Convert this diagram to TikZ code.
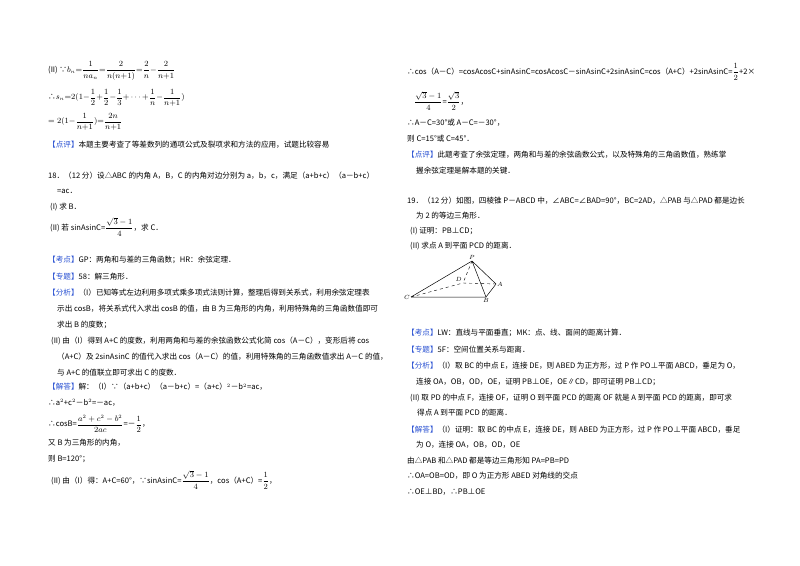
\documentclass[tikz,border=0pt]{standalone}
\usepackage{fontspec}
\usepackage{amsmath}
\setmainfont{Noto Sans CJK SC}
\definecolor{lb}{RGB}{40,80,210}
\newcommand{\ff}{\fontsize{7.6pt}{9pt}\selectfont}
\newcommand{\tg}[1]{\textcolor{lb}{【#1】}}
\newcommand{\fr}[2]{\dfrac{#1}{#2}}
\begin{document}
\begin{tikzpicture}[x=1pt,y=-1pt,
  t/.style={anchor=west,inner sep=0pt,font=\ff},
  sl/.style={draw=black,line width=0.5pt},
  dl/.style={draw=black,line width=0.4pt,dashed},
  vl/.style={inner sep=1pt,font=\fontsize{6.5pt}{7pt}\selectfont}]
\useasboundingbox[fill=white] (0,0) rectangle (800,565);
% left column
\node[t] (l1) at (48,71) {(II) ∵$b_n{=}\fr{1}{na_n}{=}\fr{2}{n(n{+}1)}{=}\fr{2}{n}{-}\fr{2}{n{+}1}$};
\node[t] (l2) at (48,98) {∴$s_n{=}2(1{-}\fr12{+}\fr12{-}\fr13{+}\cdots{+}\fr1n{-}\fr1{n{+}1})$};
\node[t] (l3) at (48,122) {$=2(1{-}\fr1{n{+}1}){=}\fr{2n}{n{+}1}$};
\node[t] (l4) at (48,145) {\tg{点评}本题主要考查了等差数列的通项公式及裂项求和方法的应用，试题比较容易};
\node[t] (l5) at (48,176) {18．（12 分）设△ABC 的内角 A，B，C 的内角对边分别为 a，b，c，满足（a+b+c）（a－b+c）};
\node[t] (l6) at (57,191) {=ac．};
\node[t] (l7) at (50,207) {(I) 求 B．};
\node[t] (l8) at (50,227) {(II) 若 sinAsinC=$\fr{\sqrt3-1}{4}$，求 C．};
\node[t] (l9) at (48,260) {\tg{考点}GP：两角和与差的三角函数；HR：余弦定理．};
\node[t] (l10) at (48,277) {\tg{专题}58：解三角形．};
\node[t] (l11) at (48,293) {\tg{分析}（I）已知等式左边利用多项式乘多项式法则计算，整理后得到关系式，利用余弦定理表};
\node[t] (l12) at (57,309) {示出 cosB，将关系式代入求出 cosB 的值，由 B 为三角形的内角，利用特殊角的三角函数值即可};
\node[t] (l13) at (57,325) {求出 B 的度数；};
\node[t] (l14) at (51,341) {(II) 由（I）得到 A+C 的度数，利用两角和与差的余弦函数公式化简 cos（A－C），变形后将 cos};
\node[t] (l15) at (57,357) {（A+C）及 2sinAsinC 的值代入求出 cos（A－C）的值，利用特殊角的三角函数值求出 A－C 的值，};
\node[t] (l16) at (57,373) {与 A+C 的值联立即可求出 C 的度数．};
\node[t] (l17) at (48,387) {\tg{解答}解：（I）∵（a+b+c）（a－b+c）=（a+c）$^2$－b$^2$=ac，};
\node[t] (l18) at (48,403) {∴a$^2$+c$^2$－b$^2$=－ac，};
\node[t] (l19) at (48,424) {∴cosB=$\fr{a^2+c^2-b^2}{2ac}$=－$\fr12$，};
\node[t] (l20) at (48,443) {又 B 为三角形的内角，};
\node[t] (l21) at (48,459) {则 B=120°；};
\node[t] (l22) at (51,480) {(II) 由（I）得：A+C=60°，∵sinAsinC=$\fr{\sqrt3-1}{4}$，cos（A+C）=$\fr12$，};
% right column
\node[t] (r1) at (407,72) {∴cos（A－C）=cosAcosC+sinAsinC=cosAcosC－sinAsinC+2sinAsinC=cos（A+C）+2sinAsinC=$\fr12$+2×};
\node[t] (r2) at (414,101) {$\fr{\sqrt3-1}{4}$=$\fr{\sqrt3}{2}$，};
\node[t] (r3) at (407,123) {∴A－C=30°或 A－C=－30°，};
\node[t] (r4) at (407,139) {则 C=15°或 C=45°．};
\node[t] (r5) at (407,155) {\tg{点评}此题考查了余弦定理，两角和与差的余弦函数公式，以及特殊角的三角函数值，熟练掌};
\node[t] (r6) at (416,171) {握余弦定理是解本题的关键．};
\node[t] (r7) at (407,201) {19．（12 分）如图，四棱锥 P－ABCD 中，∠ABC=∠BAD=90°，BC=2AD，△PAB 与△PAD 都是边长};
\node[t] (r8) at (416,216) {为 2 的等边三角形．};
\node[t] (r9) at (410,231) {(I) 证明：PB⊥CD；};
\node[t] (r10) at (410,246) {(II) 求点 A 到平面 PCD 的距离．};
% figure
\coordinate (P) at (472,261);
\coordinate (D) at (463,283);
\coordinate (A) at (496,284);
\coordinate (B) at (486,297);
\coordinate (C) at (411,297);
\draw[sl] (P)--(C) (P)--(A) (P)--(B) (C)--(B)--(A);
\draw[dl] (C)--(D)--(A) (P)--(D);
\node[vl,above] (lP) at (P) {$P$};
\node[vl,anchor=south east] (lD) at (D) {$D$};
\node[vl,right] (lA) at (A) {$A$};
\node[vl,below] (lB) at (B) {$B$};
\node[vl,left] (lC) at (C) {$C$};
\node[t] (r11) at (407,333) {\tg{考点}LW：直线与平面垂直；MK：点、线、面间的距离计算．};
\node[t] (r12) at (407,350) {\tg{专题}5F：空间位置关系与距离．};
\node[t] (r13) at (407,366) {\tg{分析}（I）取 BC 的中点 E，连接 DE，则 ABED 为正方形，过 P 作 PO⊥平面 ABCD，垂足为 O，};
\node[t] (r14) at (416,382) {连接 OA，OB，OD，OE，证明 PB⊥OE，OE∥CD，即可证明 PB⊥CD；};
\node[t] (r15) at (410,398) {(II) 取 PD 的中点 F，连接 OF，证明 O 到平面 PCD 的距离 OF 就是 A 到平面 PCD 的距离，即可求};
\node[t] (r16) at (417,413) {得点 A 到平面 PCD 的距离．};
\node[t] (r17) at (407,430) {\tg{解答}（I）证明：取 BC 的中点 E，连接 DE，则 ABED 为正方形，过 P 作 PO⊥平面 ABCD，垂足};
\node[t] (r18) at (416,445) {为 O，连接 OA，OB，OD，OE};
\node[t] (r19) at (407,461) {由△PAB 和△PAD 都是等边三角形知 PA=PB=PD};
\node[t] (r20) at (407,476) {∴OA=OB=OD，即 O 为正方形 ABED 对角线的交点};
\node[t] (r21) at (407,492) {∴OE⊥BD，∴PB⊥OE};
\end{tikzpicture}
\end{document}
